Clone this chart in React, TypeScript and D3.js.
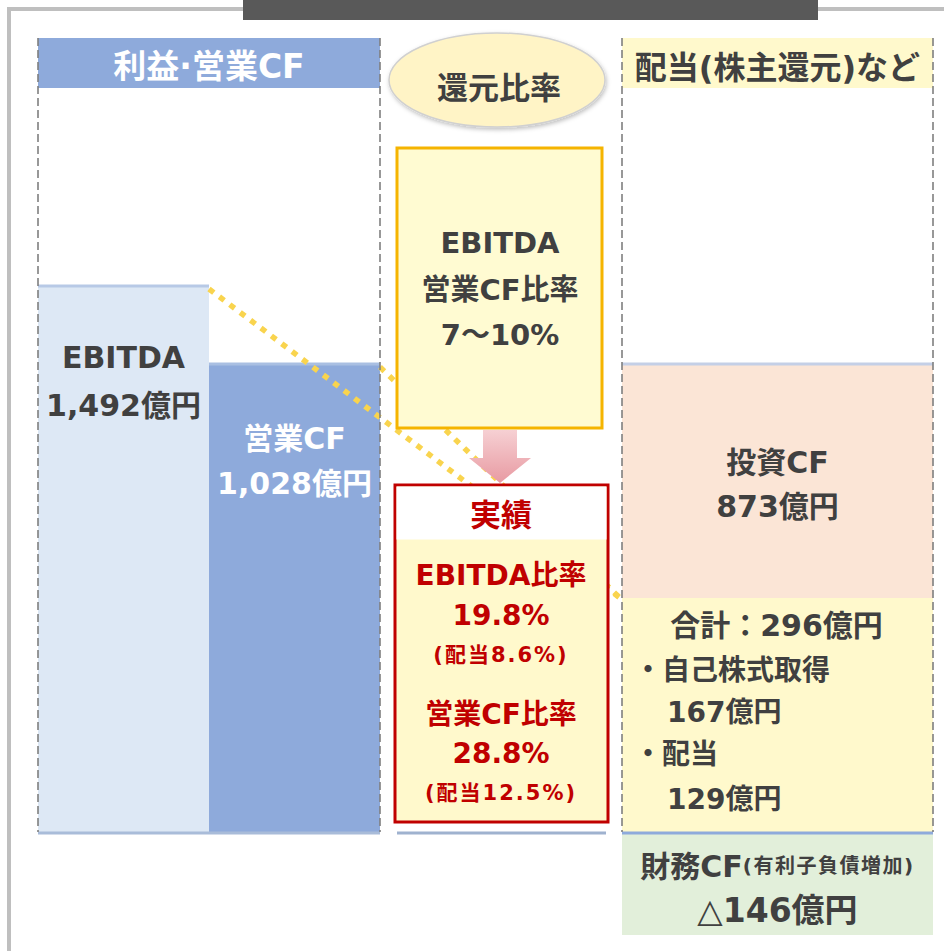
import { useEffect, useRef } from 'react';
import * as d3 from 'd3';

const W = 944;
const H = 951;

// left column: profit / operating CF (億円)
const barLabels = ['EBITDA', '営業CF'];
const barValues = [1492, 1028];

// right column: uses of cash, stacked from the operating CF level down (億円)
const useLabels = ['投資CF', '株主還元', '財務CF'];
const useValues = [873, 296, 146];

// shareholder return breakdown (億円)
const returnLabels = ['自己株式取得', '配当'];
const returnValues = [167, 129];

// payout ratios (%)
const targetRange = '7〜10%';
const ratioLabels = ['EBITDA比率', '営業CF比率'];
const ratioValues = [19.8, 28.8];
const dividendRatios = [8.6, 12.5];

const FONT = "'DejaVu Sans', 'Noto Sans CJK JP', sans-serif";
const DARK = '#404040';
const RED = '#c00000';

const BASE = 832; // baseline of the columns
const LEFT = { x0: 38, x1: 380 };
const RIGHT = { x0: 622, x1: 933 };

export default function App() {
  const svgRef = useRef<SVGSVGElement>(null);

  useEffect(() => {
    const svg = d3.select(svgRef.current);
    svg.selectAll('*').remove();

    const defs = svg.append('defs');
    const grad = defs.append('linearGradient').attr('id', 'arrowGrad')
      .attr('x1', 0).attr('y1', 0).attr('x2', 0).attr('y2', 1);
    grad.append('stop').attr('offset', '0%').attr('stop-color', '#f6d0d3');
    grad.append('stop').attr('offset', '100%').attr('stop-color', '#e89aa2');
    const sh = defs.append('filter').attr('id', 'shadow').attr('x', '-10%').attr('y', '-10%')
      .attr('width', '130%').attr('height', '140%');
    sh.append('feDropShadow').attr('dx', 1).attr('dy', 2).attr('stdDeviation', 2)
      .attr('flood-color', '#000').attr('flood-opacity', 0.25);

    // scales (schematic, not proportional from zero)
    const x = d3.scaleBand<string>().domain(barLabels).range([LEFT.x0, LEFT.x1]);
    const y = d3.scaleLinear().domain([0, d3.min(barValues)!, d3.max(barValues)!]).range([BASE, 363, 285]);
    const cum = [0, ...d3.cumsum(useValues)];
    const yR = d3.scaleLinear().domain(cum).range([363, 598, BASE, 935]);

    // outer frame + title bar
    svg.append('rect').attr('x', 9).attr('y', 9).attr('width', 960).attr('height', 980)
      .attr('fill', '#fff').attr('stroke', '#bfbfbf').attr('stroke-width', 4);
    svg.append('rect').attr('x', 243).attr('y', 0).attr('width', 575).attr('height', 20)
      .attr('fill', '#595959');

    // headers
    svg.append('rect').attr('x', LEFT.x0).attr('y', 38).attr('width', LEFT.x1 - LEFT.x0).attr('height', 50)
      .attr('fill', '#8eaadb');
    svg.append('rect').attr('x', RIGHT.x0).attr('y', 38).attr('width', RIGHT.x1 - RIGHT.x0).attr('height', 50)
      .attr('fill', '#fff9cc');

    // left bars
    const barFill = ['#dde8f5', '#8eaadb'];
    const barTop = ['#b7c9e6', '#a9bfe2'];
    barLabels.forEach((lab, i) => {
      svg.append('rect').attr('x', x(lab)!).attr('y', y(barValues[i]))
        .attr('width', x.bandwidth()).attr('height', BASE - y(barValues[i])).attr('fill', barFill[i]);
      svg.append('line').attr('x1', x(lab)!).attr('x2', x(lab)! + x.bandwidth())
        .attr('y1', y(barValues[i]) + 1).attr('y2', y(barValues[i]) + 1)
        .attr('stroke', barTop[i]).attr('stroke-width', 3);
    });

    // right stack
    const useFill = ['#fbe5d6', '#fff9cc', '#e2efda'];
    useLabels.forEach((lab, i) => {
      svg.append('rect').attr('x', RIGHT.x0).attr('y', yR(cum[i]))
        .attr('width', RIGHT.x1 - RIGHT.x0).attr('height', yR(cum[i + 1]) - yR(cum[i]))
        .attr('fill', useFill[i]);
    });
    svg.append('line').attr('x1', RIGHT.x0).attr('x2', RIGHT.x1).attr('y1', yR(0) + 1).attr('y2', yR(0) + 1)
      .attr('stroke', '#c4cfe6').attr('stroke-width', 3);

    // baselines
    svg.append('line').attr('x1', LEFT.x0).attr('x2', LEFT.x1).attr('y1', BASE + 1).attr('y2', BASE + 1)
      .attr('stroke', '#a9bcd9').attr('stroke-width', 3);
    svg.append('line').attr('x1', 397).attr('x2', 606).attr('y1', BASE + 1).attr('y2', BASE + 1)
      .attr('stroke', '#9fb2cf').attr('stroke-width', 3);
    svg.append('line').attr('x1', RIGHT.x0).attr('x2', RIGHT.x1).attr('y1', BASE + 1).attr('y2', BASE + 1)
      .attr('stroke', '#8eaadb').attr('stroke-width', 3);

    // dotted connectors from bar tops to the top of shareholder returns
    barLabels.forEach((lab, i) => {
      svg.append('line')
        .attr('x1', x(lab)! + x.bandwidth()).attr('y1', y(barValues[i]) + 4)
        .attr('x2', RIGHT.x0 - 2).attr('y2', yR(cum[1]))
        .attr('stroke', '#f9d44e').attr('stroke-width', 5.5).attr('stroke-dasharray', '6 7');
    });

    // dashed column borders
    const dash = (x1: number) =>
      svg.append('line').attr('x1', x1).attr('x2', x1).attr('y1', 38).attr('y2', BASE)
        .attr('stroke', '#7f7f7f').attr('stroke-width', 1.6).attr('stroke-dasharray', '8 4');
    [LEFT.x0, LEFT.x1, RIGHT.x0, RIGHT.x1].forEach(dash);

    // ellipse label
    svg.append('ellipse').attr('cx', 497).attr('cy', 80).attr('rx', 108).attr('ry', 47)
      .attr('fill', '#fff4c6').attr('stroke', '#d0d0d0').attr('stroke-width', 1.5)
      .attr('filter', 'url(#shadow)');

    // target box
    svg.append('rect').attr('x', 397).attr('y', 148).attr('width', 205).attr('height', 280)
      .attr('fill', '#fffbd2').attr('stroke', '#f5b400').attr('stroke-width', 3);

    // arrow
    const ax = 500;
    svg.append('path')
      .attr('d', `M${ax - 17},430 L${ax + 17},430 L${ax + 17},458 L${ax + 31},458 L${ax},483 L${ax - 31},458 L${ax - 17},458 Z`)
      .attr('fill', 'url(#arrowGrad)');

    // actual box
    svg.append('rect').attr('x', 395).attr('y', 485).attr('width', 213).attr('height', 337)
      .attr('fill', '#fff9cc').attr('stroke', RED).attr('stroke-width', 3);
    svg.append('rect').attr('x', 396.5).attr('y', 486.5).attr('width', 210).attr('height', 53)
      .attr('fill', '#fff');

    // text helper
    const txt = (t: string, tx: number, ty: number, size: number, color: string, anchor = 'middle') =>
      svg.append('text').attr('x', tx).attr('y', ty).attr('text-anchor', anchor)
        .attr('dominant-baseline', 'central').attr('font-family', FONT).attr('font-weight', 700)
        .attr('font-size', size).attr('fill', color).text(t);

    txt('利益·営業CF', (LEFT.x0 + LEFT.x1) / 2, 66, 33, '#fff');
    txt('配当(株主還元)など', (RIGHT.x0 + RIGHT.x1) / 2, 68, 32, DARK);
    txt('還元比率', 499, 88, 31, DARK);

    txt('EBITDA', 500, 243, 29, DARK);
    txt('営業CF比率', 500, 290, 29, DARK);
    txt(targetRange, 500, 335, 29, DARK);

    const fmt = d3.format(',');
    const barColor = [DARK, '#fff'];
    const barTextY = [[357, 405], [438, 483]];
    barLabels.forEach((lab, i) => {
      const cx = x(lab)! + x.bandwidth() / 2;
      txt(lab, cx, barTextY[i][0], 30, barColor[i]);
      txt(`${fmt(barValues[i])}億円`, cx, barTextY[i][1], 30, barColor[i]);
    });

    const rc = (RIGHT.x0 + RIGHT.x1) / 2;
    txt(useLabels[0], rc, 462, 30, DARK);
    txt(`${useValues[0]}億円`, rc, 506, 30, DARK);

    txt(`合計：${useValues[1]}億円`, rc - 1, 625, 30, DARK);
    txt(`・${returnLabels[0]}`, 634, 670, 28, DARK, 'start');
    txt(`${returnValues[0]}億円`, 667, 712, 28, DARK, 'start');
    txt(`・${returnLabels[1]}`, 634, 754, 28, DARK, 'start');
    txt(`${returnValues[1]}億円`, 667, 799, 28, DARK, 'start');

    const fin = svg.append('text').attr('x', rc).attr('y', 866).attr('text-anchor', 'middle')
      .attr('dominant-baseline', 'central').attr('font-family', FONT).attr('font-weight', 700).attr('fill', DARK);
    fin.append('tspan').attr('font-size', 30).text(useLabels[2]);
    fin.append('tspan').attr('font-size', 20).attr('letter-spacing', 1.5).text('(有利子負債増加)');
    txt(`△${useValues[2]}億円`, rc, 910, 33, DARK);

    txt('実績', 501, 515, 31, RED);
    const ratioY = [[575, 615, 655], [714, 753, 793]];
    ratioLabels.forEach((lab, i) => {
      txt(lab, 501, ratioY[i][0], 28, RED);
      txt(`${ratioValues[i].toFixed(1)}%`, 501, ratioY[i][1], 28, RED);
      txt(`(配当${dividendRatios[i].toFixed(1)}%)`, 501, ratioY[i][2], 21, RED).attr('letter-spacing', 2);
    });
  }, []);

  return (
    <svg ref={svgRef} width={W} height={H}
      style={{ position: 'absolute', left: 0, top: 0, display: 'block', background: '#fff' }} />
  );
}
